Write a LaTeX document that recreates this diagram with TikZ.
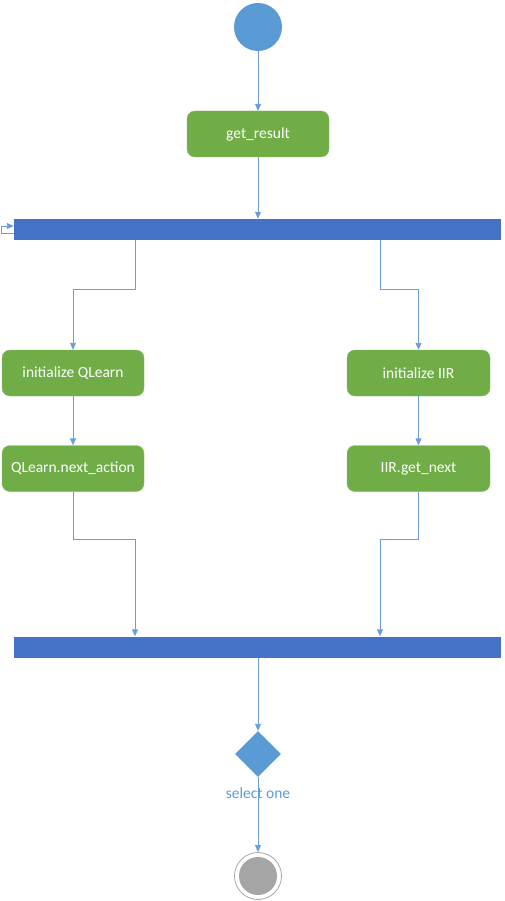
\documentclass[tikz,border=0pt]{standalone}
\usepackage{fontspec}
\setmainfont{Carlito}
\usetikzlibrary{arrows.meta,shapes.geometric,calc}
\definecolor{startblue}{HTML}{5B9BD5}
\definecolor{actgreen}{HTML}{70AD47}
\definecolor{barblue}{HTML}{4472C4}
\definecolor{linecol}{HTML}{6A9FD6}
\definecolor{endgray}{HTML}{A5A5A5}
\tikzset{
  act/.style={rounded corners=8pt, fill=actgreen, draw=actgreen!85!white, text=white, minimum height=46pt, inner sep=0pt, font=\fontsize{15.5}{18}\selectfont},
  syncbar/.style={fill=barblue, minimum width=487pt, minimum height=21pt, inner sep=0pt},
  flow/.style={draw=linecol, line width=0.9pt, -{Triangle[length=7pt,width=6pt]}},
  flowplain/.style={draw=linecol, line width=0.9pt}
}
\begin{document}
\begin{tikzpicture}[x=1pt,y=-1pt]
\useasboundingbox (0,0) rectangle (504,901);
% nodes
\node[circle, fill=startblue, minimum size=48pt, inner sep=0pt] (start) at (258,27) {};
\node[act, minimum width=142pt] (get) at (258,134) {get\_result};
\node[syncbar] (fork) at (257.5,229.5) {};
\node[act, minimum width=142pt] (qinit) at (73,373) {initialize QLearn};
\node[act, minimum width=142pt] (qnext) at (73,468.5) {QLearn.next\_action};
\node[act, minimum width=143pt] (iinit) at (418.5,373) {initialize IIR};
\node[act, minimum width=143pt] (inext) at (418.5,468.5) {IIR.get\_next};
\node[syncbar] (join) at (257.5,647) {};
\node[diamond, fill=startblue, minimum width=46pt, minimum height=46pt, inner sep=0pt] (dec) at (258,754) {};
\node[circle, draw=gray!70, fill=white, line width=0.8pt, minimum size=47pt, inner sep=0pt] (endo) at (258,876) {};
\node[circle, fill=endgray, minimum size=38pt, inner sep=0pt] (endi) at (endo) {};
% helper coordinates
\coordinate (xL) at (135,0);
\coordinate (xR) at (380,0);
\coordinate (xM) at (258,0);
% connectors
\draw[flow] (start.south) -- (get.north);
\draw[flow] (get.south) -- (get.south |- fork.north);
\draw[flow] ($(fork.west)+(0,3.5)$) -- ++(-12,0) -- ++(0,-7) -- ($(fork.west)+(0,-3.5)$);
\draw[flow] (fork.south -| xL) -- ++(0,49) -| (qinit.north);
\draw[flow] (fork.south -| xR) -- ++(0,49) -| (iinit.north);
\draw[flow] (qinit.south) -- (qnext.north);
\draw[flow] (iinit.south) -- (inext.north);
\draw[flow] (qnext.south) -- ++(0,48) -| (join.north -| xL);
\draw[flow] (inext.south) -- ++(0,48) -| (join.north -| xR);
\draw[flow] (join.south -| xM) -- (dec.north);
\draw[flow] (dec.south) -- (endo.north);
\node[text=startblue, font=\fontsize{15.5}{18}\selectfont] (lbl) at (258,793) {select one};
\end{tikzpicture}
\end{document}
